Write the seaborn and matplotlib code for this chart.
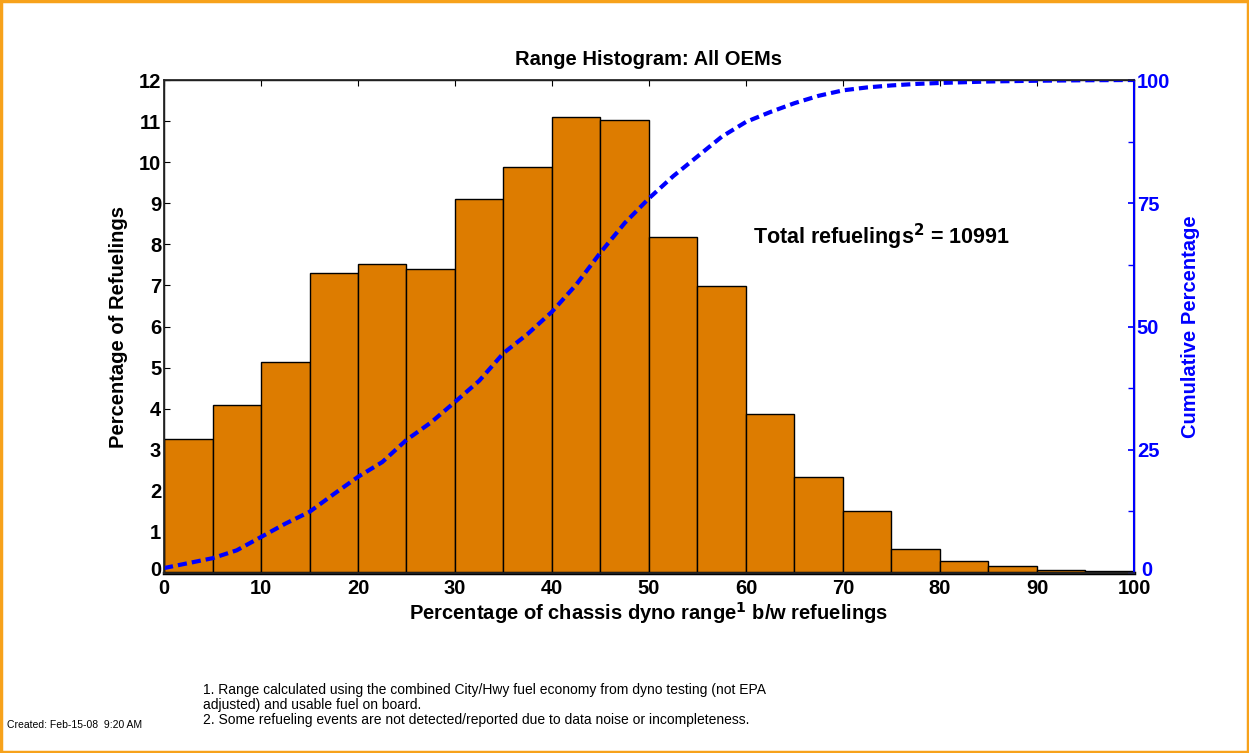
import numpy as np
import pandas as pd
import matplotlib
matplotlib.use("Agg")
import matplotlib.pyplot as plt
import matplotlib.transforms as mtransforms
import seaborn as sns

# ---- data ----
bin_edges = list(range(0, 105, 5))
bar_pct = [3.26, 4.09, 5.14, 7.30, 7.52, 7.40, 9.10, 9.88, 11.10, 11.03,
           8.18, 6.99, 3.87, 2.34, 1.51, 0.58, 0.29, 0.17, 0.08, 0.06]
cum_x = [0, 2.5, 5, 7.5, 10, 12.5, 15, 17.5, 20, 22.5, 25, 27.5, 30, 32.5, 35,
         37.5, 40, 42.5, 45, 47.5, 50, 52.5, 55, 57.5, 60, 62.5, 65, 67.5, 70,
         72.5, 75, 77.5, 80, 85, 90, 95, 100]
cum_pct = [1.0, 2.0, 3.0, 4.6, 7.3, 10.0, 12.4, 16.0, 19.5, 22.5, 27.0, 30.5,
           34.7, 39.0, 44.6, 48.5, 53.0, 58.5, 65.0, 71.0, 76.0, 80.5, 84.5,
           88.5, 91.5, 93.5, 95.3, 96.8, 97.9, 98.5, 98.9, 99.2, 99.4, 99.7,
           99.85, 99.95, 100.0]
x_ticks = list(range(0, 101, 10))
y_ticks = list(range(0, 13))
y2_ticks = [0, 25, 50, 75, 100]

sns.set_theme(style="white")
plt.rcParams['font.family'] = ['Liberation Sans', 'DejaVu Sans']
plt.rcParams['text.color'] = 'black'
plt.rcParams['axes.labelcolor'] = 'black'
plt.rcParams['xtick.color'] = 'black'
plt.rcParams['ytick.color'] = 'black'

fig = plt.figure(figsize=(12.49, 7.53), dpi=100)
ax = fig.add_axes([164/1249, 1-573/753, (1134-164)/1249, (573-80)/753])

centers = [(bin_edges[i] + bin_edges[i+1]) / 2 for i in range(len(bar_pct))]
df = pd.DataFrame({"x": centers, "w": bar_pct})
sns.histplot(data=df, x="x", weights="w", bins=bin_edges, ax=ax,
             color="#DD7C00", alpha=1, edgecolor="black", linewidth=1.0)

ax.set_xlim(0, 100)
ax.set_ylim(0, 12)
ax.set_xticks(x_ticks)
ax.set_yticks(y_ticks)
ax.tick_params(axis='y', direction='in', length=4, width=0.8,
               labelsize=14.5, pad=2, left=True)
ax.tick_params(axis='x', direction='in', length=4, width=0.8,
               labelsize=14.5, pad=4, top=True, bottom=False)
for lab in ax.get_xticklabels() + ax.get_yticklabels():
    lab.set_fontweight('bold')


def nudge(label, dx_px, dy_px):
    label.set_transform(label.get_transform() +
                        mtransforms.ScaledTranslation(dx_px/100, dy_px/100,
                                                      fig.dpi_scale_trans))


nudge(ax.get_yticklabels()[0], 0, 4)

ax.set_xlabel("Percentage of chassis dyno range$^{\\mathbf{1}}$ b/w refuelings",
              fontsize=14.5, fontweight='bold', labelpad=2)
ax.set_ylabel("Percentage of Refuelings", fontsize=14.5, fontweight='bold', labelpad=8)
ax.set_title("Range Histogram: All OEMs", fontsize=14.5, fontweight='bold', pad=11)
for sp in ax.spines.values():
    sp.set_color('black')
    sp.set_linewidth(1.0)
ax.spines['bottom'].set_linewidth(2.5)

ax2 = ax.twinx()
sns.lineplot(x=cum_x, y=cum_pct, ax=ax2, color="blue", linewidth=3)
ax2.lines[0].set_dashes((2.2, 1.2))
ax2.set_ylim(0, 100)
ax2.set_yticks(y2_ticks)
ax2.set_yticks(np.arange(0, 101, 12.5), minor=True)
ax2.tick_params(axis='y', which='both', direction='in', colors='blue',
                labelsize=14.5, pad=2, length=4)
for lab in ax2.get_yticklabels():
    lab.set_fontweight('bold')
nudge(ax2.get_yticklabels()[0], 4, 5)
ax2.spines['right'].set_color('blue')
ax2.spines['right'].set_linewidth(1.5)
ax2.set_ylabel("Cumulative Percentage", color='blue', fontsize=14.5,
               fontweight='bold', labelpad=8)
ax2.grid(False)
ax.grid(False)

ax.text(60.7, 8.18, "Total refuelings$^{\\mathbf{2}}$ = 10991", fontsize=15.5,
        fontweight='bold', va='center', ha='left')

fig.text(203/1249, 1-705/753, "1. Range calculated using the combined City/Hwy fuel economy from dyno testing (not EPA\nadjusted) and usable fuel on board.\n2. Some refueling events are not detected/reported due to data noise or incompleteness.",
         fontsize=10, va='center', ha='left', linespacing=1.05)
fig.text(7/1249, 1-725/753, "Created: Feb-15-08  9:20 AM", fontsize=7.5, va='center', ha='left')

fig.patches.append(matplotlib.patches.Rectangle((0.001, 0.001), 0.998, 0.998,
                   transform=fig.transFigure, fill=False, edgecolor="#F7A21B",
                   linewidth=2.5))

fig.savefig("out.png", dpi=100)
